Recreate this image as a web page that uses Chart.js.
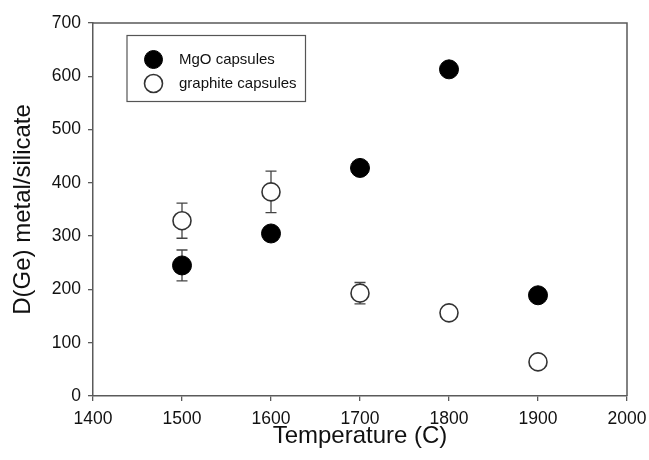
<!DOCTYPE html>
<html>
<head>
<meta charset="utf-8">
<script src="https://cdn.jsdelivr.net/npm/chart.js@4.4.0/dist/chart.umd.js"></script>
<style>
  html, body { margin: 0; padding: 0; background: #fff; }
  #wrap { position: relative; width: 649px; height: 460px; }
</style>
</head>
<body>
<div id="wrap"><canvas id="chart"></canvas></div>
<script>
// values
const temps = [1500, 1600, 1700, 1800, 1900];
const mgoD = [245, 305, 428, 613, 189];
const mgoErr = [29, 0, 0, 0, 0];
const graphiteD = [329, 383, 193, 156, 64];
const graphiteErr = [33, 39, 20, 8, 0];
const xTicks = [1400, 1500, 1600, 1700, 1800, 1900, 2000];
const yTicks = [0, 100, 200, 300, 400, 500, 600, 700];

const FONT = "'Liberation Sans', Arial, sans-serif";
const AXIS = '#5a5a5a';

function points(xs, ys, errs) {
    return xs.map((x, i) => ({ x: x, y: ys[i], err: errs[i] }));
}

// error bars drawn before the markers
const errorBars = {
    id: 'errorBars',
    beforeDatasetsDraw(chart) {
        const ctx = chart.ctx;
        const xs = chart.scales.x, ys = chart.scales.y;
        ctx.save();
        ctx.strokeStyle = '#444';
        ctx.lineWidth = 1.3;
        chart.data.datasets.forEach(ds => {
            ds.data.forEach(p => {
                if (!p.err) return;
                const px = xs.getPixelForValue(p.x);
                const top = ys.getPixelForValue(p.y + p.err);
                const bot = ys.getPixelForValue(p.y - p.err);
                ctx.beginPath();
                ctx.moveTo(px, top); ctx.lineTo(px, bot);
                ctx.moveTo(px - 5.5, top); ctx.lineTo(px + 5.5, top);
                ctx.moveTo(px - 5.5, bot); ctx.lineTo(px + 5.5, bot);
                ctx.stroke();
            });
        });
        ctx.restore();
    }
};

// frame on top/right plus the boxed legend
const frameLegend = {
    id: 'frameLegend',
    afterDraw(chart) {
        const ctx = chart.ctx;
        const a = chart.chartArea;
        ctx.save();
        ctx.strokeStyle = AXIS;
        ctx.lineWidth = 1.5;
        ctx.beginPath();
        ctx.moveTo(a.left, a.top); ctx.lineTo(a.right, a.top); ctx.lineTo(a.right, a.bottom);
        ctx.stroke();

        ctx.lineWidth = 1.2;
        ctx.strokeStyle = '#555';
        ctx.strokeRect(127, 35.5, 178.5, 66);
        ctx.font = '15px ' + FONT;
        ctx.textBaseline = 'middle';
        ctx.fillStyle = '#111';
        chart.data.datasets.forEach((ds, i) => {
            const cy = 59.5 + i * 24;
            ctx.beginPath();
            ctx.arc(153.5, cy, 9, 0, Math.PI * 2);
            ctx.fillStyle = ds.pointBackgroundColor;
            ctx.fill();
            ctx.lineWidth = ds.pointBorderWidth;
            ctx.strokeStyle = ds.pointBorderColor;
            ctx.stroke();
            ctx.fillStyle = '#111';
            ctx.fillText(ds.label, 179, cy);
        });
        ctx.restore();
    }
};

new Chart(document.getElementById('chart'), {
    type: 'scatter',
    data: {
        datasets: [
            {
                label: 'MgO capsules',
                data: points(temps, mgoD, mgoErr),
                pointRadius: 9.5,
                pointHoverRadius: 9.5,
                pointBackgroundColor: '#000',
                pointBorderColor: '#000',
                pointBorderWidth: 1
            },
            {
                label: 'graphite capsules',
                data: points(temps, graphiteD, graphiteErr),
                pointRadius: 9,
                pointHoverRadius: 9,
                pointBackgroundColor: '#fff',
                pointBorderColor: '#333',
                pointBorderWidth: 1.6
            }
        ]
    },
    options: {
        responsive: true,
        maintainAspectRatio: false,
        animation: false,
        layout: { padding: { top: 23, right: 22, left: 0, bottom: 0 } },
        plugins: {
            legend: { display: false },
            tooltip: { enabled: false }
        },
        scales: {
            x: {
                type: 'linear',
                min: 1400,
                max: 2000,
                afterBuildTicks: s => { s.ticks = xTicks.map(v => ({ value: v })); },
                afterFit: s => { s.height = 64; s.paddingLeft = 0; s.paddingRight = 0; },
                grid: { drawOnChartArea: false, drawTicks: true, tickLength: 5, color: AXIS, lineWidth: 1.3 },
                border: { display: true, color: AXIS, width: 1.5 },
                ticks: {
                    color: '#111', padding: 8, maxRotation: 0,
                    font: { family: FONT, size: 17.5 },
                    callback: v => String(v)
                },
                title: {
                    display: true,
                    text: 'Temperature (C)',
                    color: '#111',
                    padding: { top: 0, bottom: 9 },
                    font: { family: FONT, size: 24 }
                }
            },
            y: {
                type: 'linear',
                min: 0,
                max: 700,
                afterBuildTicks: s => { s.ticks = yTicks.map(v => ({ value: v })); },
                afterFit: s => { s.width = 93; s.paddingTop = 0; s.paddingBottom = 0; },
                grid: { drawOnChartArea: false, drawTicks: true, tickLength: 5, color: AXIS, lineWidth: 1.3 },
                border: { display: true, color: AXIS, width: 1.5 },
                ticks: {
                    color: '#111', padding: 7,
                    font: { family: FONT, size: 17.5 },
                    callback: v => String(v)
                },
                title: {
                    display: true,
                    text: 'D(Ge) metal/silicate',
                    color: '#111',
                    padding: { top: 9, bottom: 0 },
                    font: { family: FONT, size: 24 }
                }
            }
        }
    },
    plugins: [errorBars, frameLegend]
});
</script>
</body>
</html>
